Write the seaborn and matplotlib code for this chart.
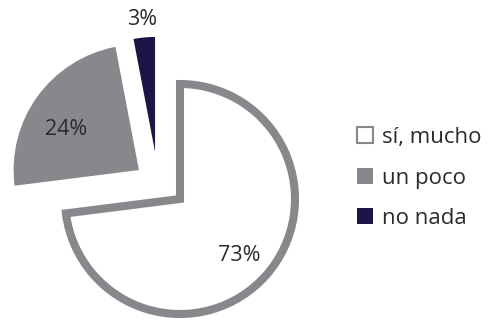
import numpy as np
import matplotlib
matplotlib.use("Agg")
import matplotlib.pyplot as plt
import seaborn as sns

categories = ["sí, mucho", "un poco", "no nada"]
values = [73, 24, 3]
colors = ["#ffffff", "#87878c", "#1e1545"]

# wedge displacement and radius (data units, base radius = 1)
offsets = [(0.0, 0.0), (-0.357, 0.252), (-0.217, 0.409)]
radii = [1.0, 1.09, 1.0]
# label distance from wedge tip and angular nudge (degrees) from the wedge middle
label_dist = [0.71, 0.72, 1.16]
label_turn = [-2, 7, 0]

sns.set_theme(style="white")
plt.rcParams["font.family"] = ["Open Sans", "DejaVu Sans"]

fig = plt.figure(figsize=(4.91, 3.22), dpi=100)
ax = fig.add_axes([0, 0, 1, 1])

wedges, texts, autotexts = ax.pie(
    values, colors=colors, startangle=90, counterclock=False,
    autopct="%d%%", radius=1.0,
    textprops=dict(fontsize=15.5, color="#2b2b2b"),
)
wedges[0].set_edgecolor("#87878c")
wedges[0].set_linewidth(5.8)
wedges[0].set_joinstyle("miter")
for w in wedges[1:]:
    w.set_linewidth(0)

for w, t, off, r, d, turn in zip(wedges, autotexts, offsets, radii, label_dist, label_turn):
    w.set_center(off)
    w.set_radius(r)
    mid = np.deg2rad((w.theta1 + w.theta2) / 2 + turn)
    t.set_position((off[0] + d * np.cos(mid), off[1] + d * np.sin(mid)))
    t.set_ha("center")
    t.set_va("center")

ax.set_aspect("auto")
ax.set_xlim(-180 / 115, 311 / 115)
ax.set_ylim(-123 / 115, 199 / 115)
ax.axis("off")

leg = ax.legend(
    wedges, categories, loc="upper left",
    bbox_to_anchor=(357 / 491, 1 - 127 / 322), bbox_transform=fig.transFigure,
    frameon=False, fontsize=16, labelcolor="#2b2b2b",
    handlelength=0.72, handleheight=0.72, handletextpad=0.4, labelspacing=0.88,
    borderpad=0, borderaxespad=0,
)
leg.legend_handles[0].set_linewidth(1.5)
leg.legend_handles[0].set_edgecolor("#87878c")

fig.savefig("out.png", dpi=100)
